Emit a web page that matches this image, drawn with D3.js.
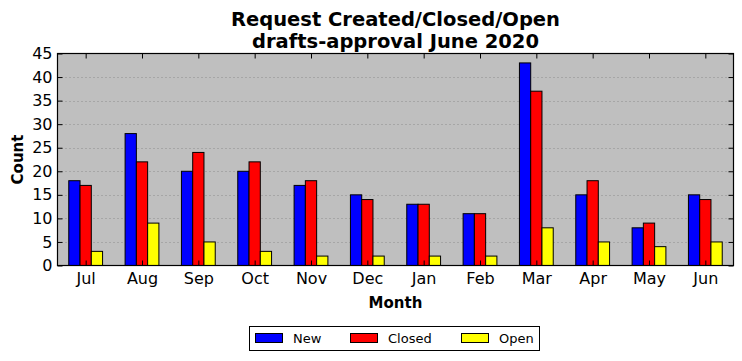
<!DOCTYPE html>
<html><head><meta charset="utf-8">
<script src="https://cdn.jsdelivr.net/npm/d3@7"></script>
<style>body{margin:0;background:#fff;} svg{display:block;font-family:"DejaVu Sans",sans-serif;}</style>
</head><body>
<script>
const months = ["Jul","Aug","Sep","Oct","Nov","Dec","Jan","Feb","Mar","Apr","May","Jun"];
const newVals = [18,28,20,20,17,15,13,11,43,15,8,15];
const closedVals = [17,22,24,22,18,14,13,11,37,18,9,14];
const openVals = [3,9,5,3,2,2,2,2,8,5,4,5];
const seriesNames = ["New","Closed","Open"];
const seriesColors = ["#0000ff","#ff0000","#ffff00"];
const yTicks = [0,5,10,15,20,25,30,35,40,45];
const titleLines = ["Request Created/Closed/Open","drafts-approval June 2020"];

const W=742,H=361;
const m={l:57.5,r:733.5,t:53.5,b:265.5};
const svg=d3.select("body").append("svg").attr("width",W).attr("height",H);
const x=d3.scaleLinear().domain([0,months.length]).range([m.l,m.r]);
const y=d3.scaleLinear().domain([0,45]).range([m.b,m.t]);
const series=[newVals,closedVals,openVals];

svg.append("rect").attr("x",m.l).attr("y",m.t).attr("width",m.r-m.l).attr("height",m.b-m.t).attr("fill","#bfbfbf");

// grid
svg.append("g").selectAll("line").data(yTicks.slice(1,-1)).join("line")
 .attr("x1",m.l).attr("x2",m.r).attr("y1",d=>Math.round(y(d))+0.5).attr("y2",d=>Math.round(y(d))+0.5)
 .attr("stroke","#808080").attr("stroke-width",0.8).attr("stroke-dasharray","1,3");

// bars
const bw=0.2;
series.forEach((vals,k)=>{
  svg.append("g").selectAll("rect").data(vals).join("rect")
   .attr("x",(d,i)=>x(i+0.2+k*bw))
   .attr("width",x(bw)-x(0))
   .attr("y",d=>y(d))
   .attr("height",d=>y(0)-y(d))
   .attr("fill",seriesColors[k]).attr("stroke","#000").attr("stroke-width",1);
});

// axes
const yAxisL=d3.axisLeft(y).tickValues(yTicks).tickSizeInner(-5).tickSizeOuter(0).tickPadding(5);
const yAxisR=d3.axisRight(y).tickValues(yTicks).tickSizeInner(-5).tickSizeOuter(0).tickFormat("");
const xAxisB=d3.axisBottom(x).tickValues(months.map((d,i)=>i+0.5)).tickFormat((d,i)=>months[i]).tickSizeInner(-5).tickSizeOuter(0).tickPadding(7);
const xAxisT=d3.axisTop(x).tickValues(months.map((d,i)=>i+0.5)).tickFormat("").tickSizeInner(-5).tickSizeOuter(0);

function style(g){g.select(".domain").remove();g.selectAll("line").attr("stroke","#000");g.selectAll("text").attr("font-size",16).attr("fill","#000").attr("font-family","DejaVu Sans");}
svg.append("g").attr("transform",`translate(${m.l},0)`).call(yAxisL).call(style);
svg.append("g").attr("transform",`translate(${m.r},0)`).call(yAxisR).call(style);
svg.append("g").attr("transform",`translate(0,${m.b})`).call(xAxisB).call(style);
svg.append("g").attr("transform",`translate(0,${m.t})`).call(xAxisT).call(style);

svg.append("rect").attr("x",m.l).attr("y",m.t).attr("width",m.r-m.l).attr("height",m.b-m.t).attr("fill","none").attr("stroke","#000").attr("stroke-width",1.2);

// titles
const cx=(m.l+m.r)/2;
svg.append("text").attr("x",cx).attr("y",26).attr("text-anchor","middle").attr("font-size",19.5).attr("font-weight","bold").text(titleLines[0]);
svg.append("text").attr("x",cx).attr("y",48).attr("text-anchor","middle").attr("font-size",19.5).attr("font-weight","bold").text(titleLines[1]);
svg.append("text").attr("x",cx).attr("y",308).attr("text-anchor","middle").attr("font-size",15).attr("font-weight","bold").text("Month");
svg.append("text").attr("transform",`translate(23,${(m.t+m.b)/2}) rotate(-90)`).attr("text-anchor","middle").attr("font-size",15).attr("font-weight","bold").text("Count");

// legend
const lg=svg.append("g");
lg.append("rect").attr("x",249.5).attr("y",326.5).attr("width",290).attr("height",24).attr("fill","#fff").attr("stroke","#000");
const lx=[255,350,461];
seriesNames.forEach((n,k)=>{
  lg.append("rect").attr("x",lx[k]+0.5).attr("y",333.5).attr("width",27).attr("height",9).attr("fill",seriesColors[k]).attr("stroke","#000");
  lg.append("text").attr("x",lx[k]+38).attr("y",343).attr("font-size",13).text(n);
});
</script>
</body></html>
